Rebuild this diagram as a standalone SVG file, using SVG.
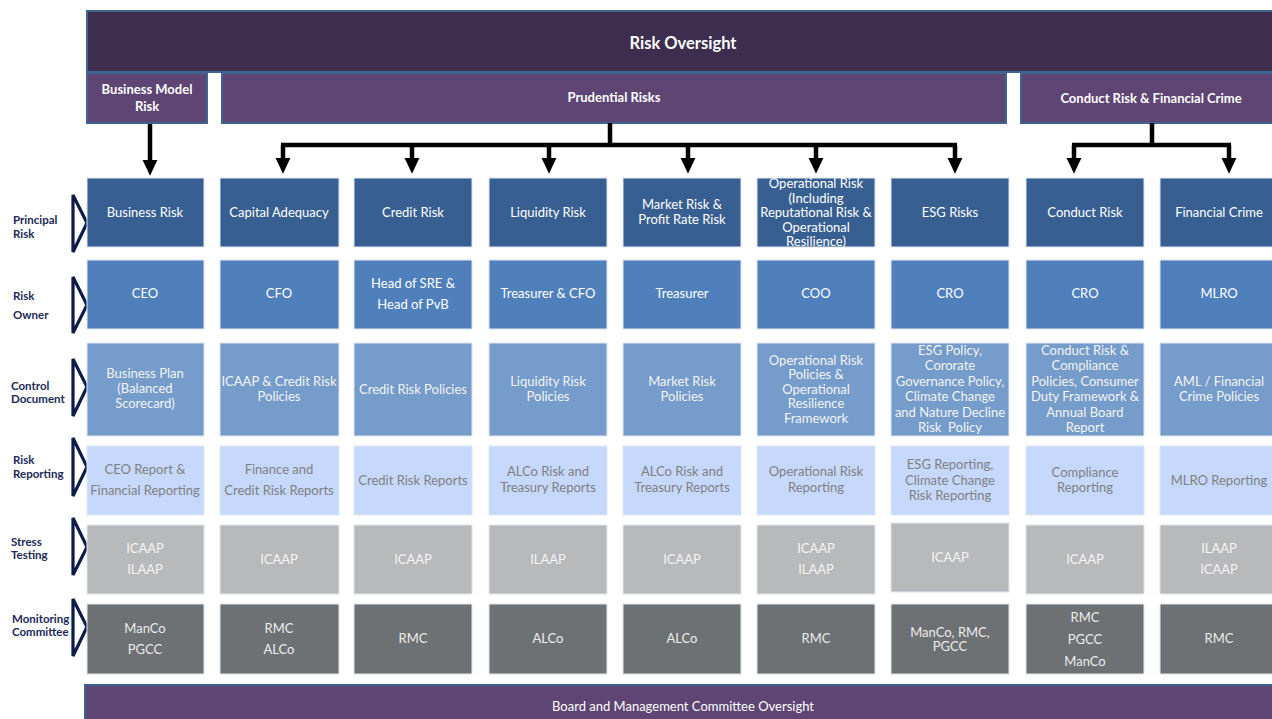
<svg xmlns="http://www.w3.org/2000/svg" width="1272" height="719" viewBox="0 0 1272 719">
<style>
text{font-family:Lato,"Liberation Sans",sans-serif;text-anchor:middle;dominant-baseline:central}
.hd{fill:#ffffff;font-weight:bold}
.lbl{fill:#1b2a58;font-weight:bold;font-size:11.5px;text-anchor:start}
.chev{fill:none;stroke:#0d1c47;stroke-width:3.2;stroke-linejoin:miter}
.cell{stroke:#dfe7f1;stroke-width:1}
.c1{fill:#385f92}.c2{fill:#4f80bc}.c3{fill:#759cca}.c4{fill:#c6d8fb}.c5{fill:#b8b9bb}.c6{fill:#6e7174}
.t{font-size:13px}
.t1,.t2{fill:#ffffff}.t3{fill:#f4f4f4}.t4{fill:#7f8083}.t5{fill:#f4f4f4}.t6{fill:#ececec}
.conn{fill:none;stroke:#000;stroke-width:4.5}
.band{stroke:#3f6390;stroke-width:2}
</style>
<defs>
<marker id="ah" markerWidth="4" markerHeight="4" refX="1" refY="2" orient="auto" markerUnits="strokeWidth">
<path d="M0,0.3 L3.6,2 L0,3.7 Z" fill="#000"/>
</marker>
</defs>
<rect width="1272" height="719" fill="#ffffff"/>

<g id="risk-oversight">
<rect class="band" x="87" y="11" width="1194" height="61" fill="#3d2d4e"/>
<text class="hd" x="683" y="43" font-size="16.5">Risk Oversight</text>
</g>
<g id="business-model-risk">
<rect class="band" x="87" y="73" width="120" height="50" fill="#5e4573"/>
<text class="hd" x="147" y="89" font-size="13">Business Model</text>
<text class="hd" x="147" y="106" font-size="13">Risk</text>
</g>
<g id="prudential-risks">
<rect class="band" x="222" y="73" width="784" height="50" fill="#5e4573"/>
<text class="hd" x="614" y="97" font-size="13">Prudential Risks</text>
</g>
<g id="conduct-financial-crime">
<rect class="band" x="1021" y="73" width="260" height="50" fill="#5e4573"/>
<text class="hd" x="1151" y="98" font-size="13">Conduct Risk &amp; Financial Crime</text>
</g>

<g id="connectors">
<path class="conn" d="M150,124 V164" marker-end="url(#ah)"/>
<path class="conn" d="M610,123 V145"/>
<path class="conn" d="M281,145 H957"/>
<path class="conn" d="M283,145 V162" marker-end="url(#ah)"/>
<path class="conn" d="M412,145 V162" marker-end="url(#ah)"/>
<path class="conn" d="M549,145 V162" marker-end="url(#ah)"/>
<path class="conn" d="M688,145 V162" marker-end="url(#ah)"/>
<path class="conn" d="M816,145 V162" marker-end="url(#ah)"/>
<path class="conn" d="M955,145 V162" marker-end="url(#ah)"/>
<path class="conn" d="M1152,123 V145"/>
<path class="conn" d="M1072,145 H1231"/>
<path class="conn" d="M1074,145 V162" marker-end="url(#ah)"/>
<path class="conn" d="M1229,145 V162" marker-end="url(#ah)"/>
</g>

<g id="row-labels">
<text class="lbl" x="13" y="219">Principal</text><text class="lbl" x="13" y="233">Risk</text>
<polygon class="chev" points="73,195 87,223 73,252"/>
<text class="lbl" x="13" y="295">Risk</text><text class="lbl" x="13" y="314">Owner</text>
<polygon class="chev" points="73,277 87,305 73,333"/>
<text class="lbl" x="11" y="385">Control</text><text class="lbl" x="11" y="398">Document</text>
<polygon class="chev" points="73,359 87,387 73,416"/>
<text class="lbl" x="13" y="459">Risk</text><text class="lbl" x="13" y="473">Reporting</text>
<polygon class="chev" points="73,438 87,467 73,496"/>
<text class="lbl" x="11" y="541">Stress</text><text class="lbl" x="11" y="554">Testing</text>
<polygon class="chev" points="73,518 87,547 73,575"/>
<text class="lbl" x="12" y="618">Monitoring</text><text class="lbl" x="12" y="631">Committee</text>
<polygon class="chev" points="73,599 87,627 73,656"/>
</g>

<!-- Row 1: Principal Risk -->
<g id="pr-business"><rect class="cell c1" x="87" y="178" width="117" height="69"/><text class="t t1" x="145" y="212">Business Risk</text></g>
<g id="pr-capital"><rect class="cell c1" x="220" y="178" width="119" height="69"/><text class="t t1" x="279" y="212">Capital Adequacy</text></g>
<g id="pr-credit"><rect class="cell c1" x="354" y="178" width="118" height="69"/><text class="t t1" x="413" y="212">Credit Risk</text></g>
<g id="pr-liquidity"><rect class="cell c1" x="489" y="178" width="118" height="69"/><text class="t t1" x="548" y="212">Liquidity Risk</text></g>
<g id="pr-market"><rect class="cell c1" x="623" y="178" width="118" height="69"/><text class="t t1" x="682" y="204">Market Risk &amp;</text><text class="t t1" x="682" y="219">Profit Rate Risk</text></g>
<g id="pr-operational"><rect class="cell c1" x="757" y="178" width="118" height="69"/><text class="t t1" x="816" y="183">Operational Risk</text><text class="t t1" x="816" y="198">(Including</text><text class="t t1" x="816" y="212">Reputational Risk &amp;</text><text class="t t1" x="816" y="227">Operational</text><text class="t t1" x="816" y="241">Resilience)</text></g>
<g id="pr-esg"><rect class="cell c1" x="891" y="178" width="118" height="69"/><text class="t t1" x="950" y="212">ESG Risks</text></g>
<g id="pr-conduct"><rect class="cell c1" x="1026" y="178" width="118" height="69"/><text class="t t1" x="1085" y="212">Conduct Risk</text></g>
<g id="pr-fincrime"><rect class="cell c1" x="1160" y="178" width="118" height="69"/><text class="t t1" x="1219" y="212">Financial Crime</text></g>

<!-- Row 2: Risk Owner -->
<g id="ro-business"><rect class="cell c2" x="87" y="260" width="117" height="69"/><text class="t t2" x="145" y="293">CEO</text></g>
<g id="ro-capital"><rect class="cell c2" x="220" y="260" width="119" height="69"/><text class="t t2" x="279" y="293">CFO</text></g>
<g id="ro-credit"><rect class="cell c2" x="354" y="260" width="118" height="69"/><text class="t t2" x="413" y="283">Head of SRE &amp;</text><text class="t t2" x="413" y="304">Head of PvB</text></g>
<g id="ro-liquidity"><rect class="cell c2" x="489" y="260" width="118" height="69"/><text class="t t2" x="548" y="293">Treasurer &amp; CFO</text></g>
<g id="ro-market"><rect class="cell c2" x="623" y="260" width="118" height="69"/><text class="t t2" x="682" y="293">Treasurer</text></g>
<g id="ro-operational"><rect class="cell c2" x="757" y="260" width="118" height="69"/><text class="t t2" x="816" y="293">COO</text></g>
<g id="ro-esg"><rect class="cell c2" x="891" y="260" width="118" height="69"/><text class="t t2" x="950" y="293">CRO</text></g>
<g id="ro-conduct"><rect class="cell c2" x="1026" y="260" width="118" height="69"/><text class="t t2" x="1085" y="293">CRO</text></g>
<g id="ro-fincrime"><rect class="cell c2" x="1160" y="260" width="118" height="69"/><text class="t t2" x="1219" y="293">MLRO</text></g>

<!-- Row 3: Control Document -->
<g id="cd-business"><rect class="cell c3" x="87" y="343" width="117" height="93"/><text class="t t3" x="145" y="373">Business Plan</text><text class="t t3" x="145" y="388">(Balanced</text><text class="t t3" x="145" y="403">Scorecard)</text></g>
<g id="cd-capital"><rect class="cell c3" x="220" y="343" width="119" height="93"/><text class="t t3" x="279" y="381">ICAAP &amp; Credit Risk</text><text class="t t3" x="279" y="396">Policies</text></g>
<g id="cd-credit"><rect class="cell c3" x="354" y="343" width="118" height="93"/><text class="t t3" x="413" y="389">Credit Risk Policies</text></g>
<g id="cd-liquidity"><rect class="cell c3" x="489" y="343" width="118" height="93"/><text class="t t3" x="548" y="381">Liquidity Risk</text><text class="t t3" x="548" y="396">Policies</text></g>
<g id="cd-market"><rect class="cell c3" x="623" y="343" width="118" height="93"/><text class="t t3" x="682" y="381">Market Risk</text><text class="t t3" x="682" y="396">Policies</text></g>
<g id="cd-operational"><rect class="cell c3" x="757" y="343" width="118" height="93"/><text class="t t3" x="816" y="360">Operational Risk</text><text class="t t3" x="816" y="374">Policies &amp;</text><text class="t t3" x="816" y="389">Operational</text><text class="t t3" x="816" y="403">Resilience</text><text class="t t3" x="816" y="418">Framework</text></g>
<g id="cd-esg"><rect class="cell c3" x="891" y="343" width="118" height="93"/><text class="t t3" x="950" y="350">ESG Policy,</text><text class="t t3" x="950" y="365">Cororate</text><text class="t t3" x="950" y="381">Governance Policy,</text><text class="t t3" x="950" y="396">Climate Change</text><text class="t t3" x="950" y="412">and Nature Decline</text><text class="t t3" x="950" y="427" xml:space="preserve">Risk  Policy</text></g>
<g id="cd-conduct"><rect class="cell c3" x="1026" y="343" width="118" height="93"/><text class="t t3" x="1085" y="350">Conduct Risk &amp;</text><text class="t t3" x="1085" y="365">Compliance</text><text class="t t3" x="1085" y="381">Policies, Consumer</text><text class="t t3" x="1085" y="396">Duty Framework &amp;</text><text class="t t3" x="1085" y="412">Annual Board</text><text class="t t3" x="1085" y="427">Report</text></g>
<g id="cd-fincrime"><rect class="cell c3" x="1160" y="343" width="118" height="93"/><text class="t t3" x="1219" y="381">AML / Financial</text><text class="t t3" x="1219" y="396">Crime Policies</text></g>

<!-- Row 4: Risk Reporting -->
<g id="rr-business"><rect class="cell c4" x="87" y="446" width="117" height="69"/><text class="t t4" x="145" y="469">CEO Report &amp;</text><text class="t t4" x="145" y="490">Financial Reporting</text></g>
<g id="rr-capital"><rect class="cell c4" x="220" y="446" width="119" height="69"/><text class="t t4" x="279" y="469">Finance and</text><text class="t t4" x="279" y="490">Credit Risk Reports</text></g>
<g id="rr-credit"><rect class="cell c4" x="354" y="446" width="118" height="69"/><text class="t t4" x="413" y="480">Credit Risk Reports</text></g>
<g id="rr-liquidity"><rect class="cell c4" x="489" y="446" width="118" height="69"/><text class="t t4" x="548" y="471">ALCo Risk and</text><text class="t t4" x="548" y="487">Treasury Reports</text></g>
<g id="rr-market"><rect class="cell c4" x="623" y="446" width="118" height="69"/><text class="t t4" x="682" y="471">ALCo Risk and</text><text class="t t4" x="682" y="487">Treasury Reports</text></g>
<g id="rr-operational"><rect class="cell c4" x="757" y="446" width="118" height="69"/><text class="t t4" x="816" y="471">Operational Risk</text><text class="t t4" x="816" y="487">Reporting</text></g>
<g id="rr-esg"><rect class="cell c4" x="891" y="446" width="118" height="69"/><text class="t t4" x="950" y="464">ESG Reporting,</text><text class="t t4" x="950" y="480">Climate Change</text><text class="t t4" x="950" y="495">Risk Reporting</text></g>
<g id="rr-conduct"><rect class="cell c4" x="1026" y="446" width="118" height="69"/><text class="t t4" x="1085" y="472">Compliance</text><text class="t t4" x="1085" y="487">Reporting</text></g>
<g id="rr-fincrime"><rect class="cell c4" x="1160" y="446" width="118" height="69"/><text class="t t4" x="1219" y="480">MLRO Reporting</text></g>

<!-- Row 5: Stress Testing -->
<g id="st-business"><rect class="cell c5" x="87" y="525" width="117" height="69"/><text class="t t5" x="145" y="548">ICAAP</text><text class="t t5" x="145" y="569">ILAAP</text></g>
<g id="st-capital"><rect class="cell c5" x="220" y="525" width="119" height="69"/><text class="t t5" x="279" y="559">ICAAP</text></g>
<g id="st-credit"><rect class="cell c5" x="354" y="525" width="118" height="69"/><text class="t t5" x="413" y="559">ICAAP</text></g>
<g id="st-liquidity"><rect class="cell c5" x="489" y="525" width="118" height="69"/><text class="t t5" x="548" y="559">ILAAP</text></g>
<g id="st-market"><rect class="cell c5" x="623" y="525" width="118" height="69"/><text class="t t5" x="682" y="559">ICAAP</text></g>
<g id="st-operational"><rect class="cell c5" x="757" y="525" width="118" height="69"/><text class="t t5" x="816" y="548">ICAAP</text><text class="t t5" x="816" y="569">ILAAP</text></g>
<g id="st-esg"><rect class="cell c5" x="891" y="523" width="118" height="69"/><text class="t t5" x="950" y="557">ICAAP</text></g>
<g id="st-conduct"><rect class="cell c5" x="1026" y="525" width="118" height="69"/><text class="t t5" x="1085" y="559">ICAAP</text></g>
<g id="st-fincrime"><rect class="cell c5" x="1160" y="525" width="118" height="69"/><text class="t t5" x="1219" y="548">ILAAP</text><text class="t t5" x="1219" y="569">ICAAP</text></g>

<!-- Row 6: Monitoring Committee -->
<g id="mc-business"><rect class="cell c6" x="87" y="604" width="117" height="70"/><text class="t t6" x="145" y="628">ManCo</text><text class="t t6" x="145" y="649">PGCC</text></g>
<g id="mc-capital"><rect class="cell c6" x="220" y="604" width="119" height="70"/><text class="t t6" x="279" y="628">RMC</text><text class="t t6" x="279" y="649">ALCo</text></g>
<g id="mc-credit"><rect class="cell c6" x="354" y="604" width="118" height="70"/><text class="t t6" x="413" y="638">RMC</text></g>
<g id="mc-liquidity"><rect class="cell c6" x="489" y="604" width="118" height="70"/><text class="t t6" x="548" y="638">ALCo</text></g>
<g id="mc-market"><rect class="cell c6" x="623" y="604" width="118" height="70"/><text class="t t6" x="682" y="638">ALCo</text></g>
<g id="mc-operational"><rect class="cell c6" x="757" y="604" width="118" height="70"/><text class="t t6" x="816" y="638">RMC</text></g>
<g id="mc-esg"><rect class="cell c6" x="891" y="604" width="118" height="70"/><text class="t t6" x="950" y="632">ManCo, RMC,</text><text class="t t6" x="950" y="646">PGCC</text></g>
<g id="mc-conduct"><rect class="cell c6" x="1026" y="604" width="118" height="70"/><text class="t t6" x="1085" y="617">RMC</text><text class="t t6" x="1085" y="639">PGCC</text><text class="t t6" x="1085" y="661">ManCo</text></g>
<g id="mc-fincrime"><rect class="cell c6" x="1160" y="604" width="118" height="70"/><text class="t t6" x="1219" y="638">RMC</text></g>

<g id="board-oversight">
<rect class="band" x="85" y="685" width="1196" height="40" fill="#5e4573"/>
<text fill="#ffffff" font-size="13" x="683" y="706">Board and Management Committee Oversight</text>
</g>
</svg>
